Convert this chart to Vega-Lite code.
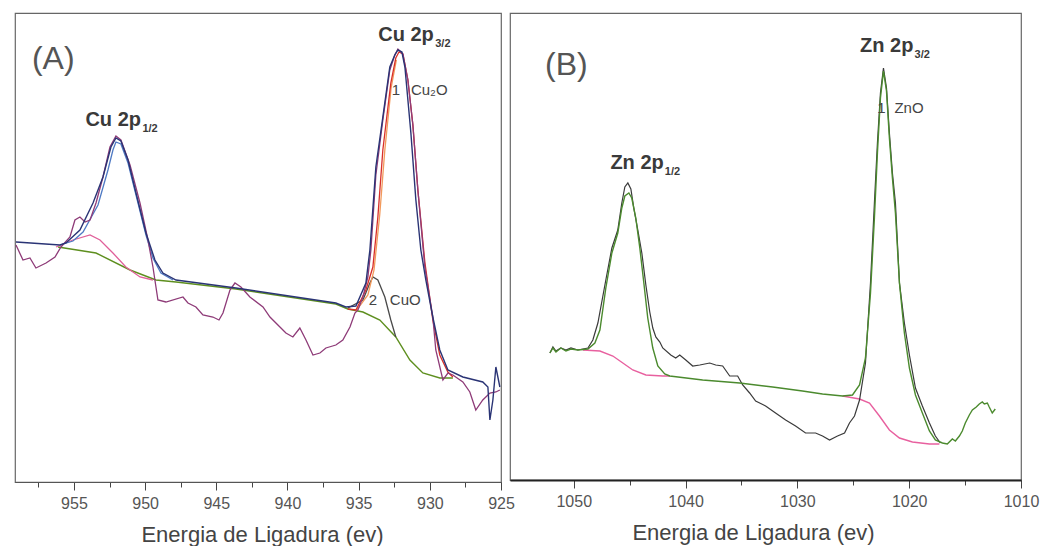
{
  "$schema": "https://vega.github.io/schema/vega-lite/v6.json",
  "padding": {"left": 12, "top": 12, "right": 5, "bottom": 0},
  "bounds": "flush",
  "spacing": 9,
  "background": "white",
  "config": {
    "view": {"stroke": "#666", "strokeWidth": 1.2},
    "font": "Liberation Sans",
    "axis": {
      "labelFont": "Liberation Sans", "labelFontSize": 16, "labelColor": "#555", "labelFlush": false,
      "titleFont": "Liberation Sans", "titleFontSize": 22, "titleFontWeight": "normal", "titleColor": "#444",
      "tickColor": "#444", "domainColor": "#333", "domainWidth": 1.5, "labelPadding": 5, "titlePadding": 13,
      "grid": false, "tickWidth": 1
    }
  },
  "datasets": {
    "A_raw": [{"E":959.07,"I":237},{"E":958.58,"I":222},{"E":958.09,"I":224},{"E":957.67,"I":214},{"E":956.96,"I":219},{"E":956.33,"I":225},{"E":955.91,"I":235},{"E":955.28,"I":245},{"E":954.93,"I":262},{"E":954.58,"I":265},{"E":954.22,"I":260},{"E":953.87,"I":262},{"E":953.45,"I":279},{"E":952.96,"I":305},{"E":952.47,"I":335},{"E":952.05,"I":346},{"E":951.7,"I":342},{"E":951.06,"I":317},{"E":950.36,"I":279},{"E":949.8,"I":242},{"E":949.45,"I":215},{"E":949.1,"I":182},{"E":948.54,"I":180},{"E":947.34,"I":185},{"E":946.99,"I":179},{"E":946.43,"I":175},{"E":945.94,"I":167},{"E":945.24,"I":165},{"E":944.81,"I":162},{"E":944.53,"I":169},{"E":944.04,"I":192},{"E":943.69,"I":199},{"E":943.27,"I":195},{"E":942.64,"I":185},{"E":941.72,"I":175},{"E":941.23,"I":165},{"E":940.53,"I":155},{"E":940.11,"I":149},{"E":939.62,"I":145},{"E":939.13,"I":154},{"E":938.7,"I":142},{"E":938.21,"I":127},{"E":937.72,"I":129},{"E":937.3,"I":134},{"E":936.6,"I":137},{"E":936.11,"I":142},{"E":935.61,"I":155},{"E":935.26,"I":169},{"E":935.05,"I":172},{"E":934.7,"I":185},{"E":934.35,"I":205},{"E":934.14,"I":232},{"E":933.79,"I":307},{"E":933.3,"I":362},{"E":932.81,"I":412},{"E":932.46,"I":427},{"E":932.24,"I":433},{"E":931.89,"I":428},{"E":931.54,"I":402},{"E":931.19,"I":357},{"E":930.84,"I":292},{"E":930.35,"I":215},{"E":929.79,"I":165},{"E":929.58,"I":132},{"E":929.08,"I":102},{"E":928.73,"I":109},{"E":928.38,"I":107},{"E":927.68,"I":100},{"E":927.19,"I":90},{"E":926.77,"I":72},{"E":926.28,"I":82},{"E":925.78,"I":89},{"E":925.36,"I":90},{"E":925.08,"I":92}],
    "A_env": [{"E":959.07,"I":240},{"E":955.98,"I":237},{"E":955.56,"I":239},{"E":954.58,"I":252},{"E":953.66,"I":279},{"E":952.96,"I":305},{"E":952.4,"I":335},{"E":952.05,"I":344},{"E":951.7,"I":341},{"E":951.2,"I":322},{"E":950.64,"I":289},{"E":949.94,"I":249},{"E":949.31,"I":222},{"E":948.75,"I":209},{"E":947.83,"I":202},{"E":943.62,"I":194},{"E":936.6,"I":179},{"E":935.9,"I":175},{"E":935.19,"I":176},{"E":934.49,"I":199},{"E":934.21,"I":232},{"E":933.79,"I":315},{"E":933.3,"I":365},{"E":932.81,"I":415},{"E":932.46,"I":427},{"E":932.24,"I":432},{"E":931.96,"I":430},{"E":931.75,"I":415},{"E":931.33,"I":349},{"E":930.98,"I":282},{"E":930.63,"I":232},{"E":930.28,"I":202},{"E":929.79,"I":165},{"E":929.3,"I":132},{"E":928.73,"I":112},{"E":927.68,"I":105},{"E":926.28,"I":100},{"E":925.92,"I":95},{"E":925.78,"I":62},{"E":925.57,"I":82},{"E":925.36,"I":115},{"E":925.08,"I":95}],
    "A_bg": [{"E":956.12,"I":235},{"E":953.45,"I":229},{"E":951.06,"I":212},{"E":949.24,"I":202},{"E":947.83,"I":200},{"E":943.62,"I":193},{"E":936.6,"I":178},{"E":935.76,"I":173},{"E":934.7,"I":170},{"E":933.51,"I":162},{"E":932.39,"I":145},{"E":931.4,"I":122},{"E":930.49,"I":109},{"E":929.3,"I":104},{"E":928.38,"I":104}],
    "A_pink": [{"E":956.26,"I":235},{"E":955.07,"I":242},{"E":953.87,"I":247},{"E":953.17,"I":242},{"E":952.26,"I":229},{"E":951.35,"I":215},{"E":950.36,"I":205},{"E":949.45,"I":202}],
    "A_blue": [{"E":955.98,"I":237},{"E":955.07,"I":241},{"E":954.36,"I":250},{"E":953.31,"I":277},{"E":952.61,"I":312},{"E":952.26,"I":332},{"E":952.05,"I":340},{"E":951.7,"I":338},{"E":951.2,"I":319},{"E":950.64,"I":287},{"E":949.94,"I":247},{"E":949.45,"I":224},{"E":948.89,"I":209},{"E":948.04,"I":202}],
    "A_red": [{"E":935.76,"I":173},{"E":935.19,"I":172},{"E":934.49,"I":192},{"E":934.0,"I":215},{"E":933.65,"I":265},{"E":933.3,"I":332},{"E":932.74,"I":399},{"E":932.39,"I":424},{"E":932.17,"I":430},{"E":931.89,"I":428},{"E":931.54,"I":402},{"E":931.19,"I":357},{"E":930.84,"I":292},{"E":930.35,"I":220},{"E":929.79,"I":162},{"E":929.3,"I":127},{"E":928.73,"I":110},{"E":928.38,"I":105}],
    "A_orange": [{"E":935.19,"I":171},{"E":934.35,"I":187},{"E":933.92,"I":212},{"E":933.52,"I":267},{"E":933.16,"I":332},{"E":932.72,"I":394},{"E":932.35,"I":422}],
    "A_cuo": [{"E":935.76,"I":174},{"E":934.7,"I":182},{"E":934.21,"I":199},{"E":934.0,"I":205},{"E":933.65,"I":202},{"E":933.16,"I":185},{"E":932.74,"I":162},{"E":932.39,"I":145}],
    "A_lab": [
      {"E":957.95,"I":423,"t":"(A)","k":"panel"},
      {"E":929.72,"I":447,"t":"Cu 2p","k":"peak"},
      {"E":929.62,"I":438,"t":"3/2","k":"sub"},
      {"E":950.29,"I":362,"t":"Cu 2p","k":"peak"},
      {"E":950.19,"I":353,"t":"1/2","k":"sub"},
      {"E":932.39,"I":392,"t":"1","k":"num"},
      {"E":931.33,"I":392,"t":"Cu₂O","k":"comp"},
      {"E":934.0,"I":182,"t":"2","k":"num"},
      {"E":932.81,"I":182,"t":"CuO","k":"comp"}
    ],
    "B_raw": [{"E":1052.13,"I":127},{"E":1051.86,"I":133},{"E":1051.59,"I":129},{"E":1051.15,"I":132},{"E":1050.7,"I":130},{"E":1050.25,"I":132},{"E":1049.63,"I":130},{"E":1048.73,"I":132},{"E":1048.29,"I":140},{"E":1047.84,"I":157},{"E":1047.13,"I":200},{"E":1046.59,"I":232},{"E":1046.06,"I":250},{"E":1045.7,"I":277},{"E":1045.43,"I":293},{"E":1045.16,"I":297},{"E":1044.89,"I":291},{"E":1044.63,"I":272},{"E":1044.27,"I":250},{"E":1043.91,"I":227},{"E":1043.55,"I":195},{"E":1043.2,"I":168},{"E":1042.93,"I":152},{"E":1042.66,"I":143},{"E":1042.3,"I":138},{"E":1042.04,"I":132},{"E":1041.32,"I":125},{"E":1040.88,"I":122},{"E":1040.52,"I":125},{"E":1039.98,"I":120},{"E":1039.36,"I":114},{"E":1038.73,"I":115},{"E":1037.84,"I":117},{"E":1037.3,"I":115},{"E":1036.68,"I":114},{"E":1036.05,"I":104},{"E":1035.34,"I":104},{"E":1034.89,"I":95},{"E":1034.27,"I":87},{"E":1033.73,"I":79},{"E":1032.84,"I":74},{"E":1031.95,"I":67},{"E":1031.05,"I":60},{"E":1030.16,"I":54},{"E":1029.27,"I":47},{"E":1028.37,"I":47},{"E":1027.75,"I":44},{"E":1027.12,"I":40},{"E":1026.41,"I":44},{"E":1025.78,"I":47},{"E":1025.34,"I":57},{"E":1024.89,"I":64},{"E":1024.44,"I":80},{"E":1023.91,"I":117},{"E":1023.46,"I":197},{"E":1023.11,"I":277},{"E":1022.84,"I":337},{"E":1022.57,"I":387},{"E":1022.3,"I":412},{"E":1022.03,"I":392},{"E":1021.77,"I":347},{"E":1021.5,"I":307},{"E":1021.23,"I":277},{"E":1020.87,"I":197},{"E":1020.43,"I":157},{"E":1019.98,"I":125},{"E":1019.44,"I":92},{"E":1018.82,"I":74},{"E":1018.19,"I":57},{"E":1017.66,"I":44},{"E":1017.21,"I":37}],
    "B_fit": [{"E":1052.13,"I":127},{"E":1051.86,"I":132},{"E":1051.59,"I":128},{"E":1051.15,"I":132},{"E":1050.7,"I":129},{"E":1050.25,"I":131},{"E":1049.63,"I":130},{"E":1048.73,"I":131},{"E":1048.11,"I":137},{"E":1047.66,"I":150},{"E":1047.13,"I":192},{"E":1046.59,"I":227},{"E":1046.06,"I":247},{"E":1045.7,"I":272},{"E":1045.43,"I":284},{"E":1045.07,"I":287},{"E":1044.81,"I":282},{"E":1044.45,"I":262},{"E":1044.09,"I":232},{"E":1043.73,"I":197},{"E":1043.38,"I":162},{"E":1042.93,"I":132},{"E":1042.48,"I":114},{"E":1041.86,"I":106},{"E":1041.41,"I":104},{"E":1038.47,"I":100},{"E":1035.16,"I":97},{"E":1032.21,"I":93},{"E":1029.54,"I":89},{"E":1027.75,"I":86},{"E":1025.96,"I":84},{"E":1025.07,"I":85},{"E":1024.44,"I":95},{"E":1023.91,"I":122},{"E":1023.46,"I":187},{"E":1023.11,"I":262},{"E":1022.84,"I":327},{"E":1022.57,"I":382},{"E":1022.3,"I":409},{"E":1022.03,"I":389},{"E":1021.77,"I":342},{"E":1021.5,"I":302},{"E":1021.23,"I":267},{"E":1020.87,"I":197},{"E":1020.43,"I":147},{"E":1019.98,"I":112},{"E":1019.44,"I":85},{"E":1018.82,"I":67},{"E":1018.19,"I":49},{"E":1017.66,"I":40},{"E":1017.03,"I":37},{"E":1016.59,"I":36},{"E":1016.14,"I":41},{"E":1015.87,"I":39},{"E":1015.51,"I":44},{"E":1015.25,"I":49},{"E":1014.98,"I":57},{"E":1014.62,"I":65},{"E":1014.35,"I":70},{"E":1014.0,"I":73},{"E":1013.73,"I":76},{"E":1013.46,"I":78},{"E":1013.28,"I":76},{"E":1013.01,"I":77},{"E":1012.84,"I":73},{"E":1012.57,"I":67},{"E":1012.3,"I":71}],
    "B_pink": [{"g":1,"E":1049.18,"I":130},{"g":1,"E":1047.66,"I":129},{"g":1,"E":1046.5,"I":124},{"g":1,"E":1045.61,"I":117},{"g":1,"E":1044.72,"I":110},{"g":1,"E":1043.55,"I":105},{"g":1,"E":1042.04,"I":104},{"g":1,"E":1041.41,"I":104},{"g":2,"E":1025.96,"I":84},{"g":2,"E":1024.44,"I":81},{"g":2,"E":1023.55,"I":77},{"g":2,"E":1022.66,"I":64},{"g":2,"E":1021.77,"I":50},{"g":2,"E":1020.87,"I":42},{"g":2,"E":1019.71,"I":38},{"g":2,"E":1018.19,"I":36},{"g":2,"E":1017.3,"I":36}],
    "B_lab": [
      {"E":1052.57,"I":415,"t":"(B)","k":"panel"},
      {"E":1019.62,"I":434,"t":"Zn 2p","k":"peak"},
      {"E":1019.52,"I":425,"t":"3/2","k":"sub"},
      {"E":1041.95,"I":317,"t":"Zn 2p","k":"peak"},
      {"E":1041.85,"I":308,"t":"1/2","k":"sub"},
      {"E":1022.48,"I":372,"t":"1","k":"num"},
      {"E":1021.32,"I":372,"t":"ZnO","k":"comp"}
    ]
  },
  "hconcat": [
    {
      "width": 486,
      "height": 469,
      "encoding": {
        "x": {"field": "E", "type": "quantitative",
          "scale": {"domain": [925, 959.14], "reverse": true, "nice": false, "zero": false},
          "axis": {"title": "Energia de Ligadura (ev)", "titleX": 247,
            "values": [957.5, 955, 952.5, 950, 947.5, 945, 942.5, 940, 937.5, 935, 932.5, 930, 927.5, 925],
            "labelExpr": "datum.value % 5 == 0 ? format(datum.value, 'd') : ''",
            "tickSize": {"condition": {"test": "datum.value % 5 == 0", "value": 8}, "value": 5},
            "domainColor": "#555", "domainWidth": 1.2}},
        "y": {"field": "I", "type": "quantitative", "scale": {"domain": [0, 469], "nice": false, "zero": false}, "axis": null}
      },
      "layer": [
        {"data": {"name": "A_bg"}, "mark": {"type": "line", "color": "#5e8f1f", "strokeWidth": 1.4}},
        {"data": {"name": "A_pink"}, "mark": {"type": "line", "color": "#e0609a", "strokeWidth": 1.3}},
        {"data": {"name": "A_blue"}, "mark": {"type": "line", "color": "#4f7ac4", "strokeWidth": 1.3}},
        {"data": {"name": "A_cuo"}, "mark": {"type": "line", "color": "#4a4a4a", "strokeWidth": 1.3}},
        {"data": {"name": "A_orange"}, "mark": {"type": "line", "color": "#f29a5c", "strokeWidth": 1.3}},
        {"data": {"name": "A_red"}, "mark": {"type": "line", "color": "#d8302a", "strokeWidth": 1.3}},
        {"data": {"name": "A_raw"}, "mark": {"type": "line", "color": "#8e3b78", "strokeWidth": 1.3}},
        {"data": {"name": "A_env"}, "mark": {"type": "line", "color": "#2a3475", "strokeWidth": 1.4}},
        {"data": {"name": "A_lab"}, "transform": [{"filter": "datum.k == 'panel'"}],
          "mark": {"type": "text", "fontSize": 32, "align": "left", "baseline": "middle", "color": "#555"},
          "encoding": {"text": {"field": "t"}}},
        {"data": {"name": "A_lab"}, "transform": [{"filter": "datum.k == 'peak'"}],
          "mark": {"type": "text", "fontSize": 20, "fontWeight": "bold", "align": "right", "baseline": "middle", "color": "#3a3a3a"},
          "encoding": {"text": {"field": "t"}}},
        {"data": {"name": "A_lab"}, "transform": [{"filter": "datum.k == 'sub'"}],
          "mark": {"type": "text", "fontSize": 11, "fontWeight": "bold", "align": "left", "baseline": "middle", "color": "#3a3a3a"},
          "encoding": {"text": {"field": "t"}}},
        {"data": {"name": "A_lab"}, "transform": [{"filter": "datum.k == 'num'"}],
          "mark": {"type": "text", "fontSize": 15, "align": "center", "baseline": "middle", "color": "#444"},
          "encoding": {"text": {"field": "t"}}},
        {"data": {"name": "A_lab"}, "transform": [{"filter": "datum.k == 'comp'"}],
          "mark": {"type": "text", "fontSize": 15, "align": "left", "baseline": "middle", "color": "#444"},
          "encoding": {"text": {"field": "t"}}}
      ]
    },
    {
      "width": 511,
      "height": 467,
      "encoding": {
        "x": {"field": "E", "type": "quantitative",
          "scale": {"domain": [1010, 1055.7], "reverse": true, "nice": false, "zero": false},
          "axis": {"title": "Energia de Ligadura (ev)", "titleX": 243,
            "values": [1050, 1045, 1040, 1035, 1030, 1025, 1020, 1015, 1010],
            "labelExpr": "datum.value % 10 == 0 ? format(datum.value, 'd') : ''",
            "tickSize": {"condition": {"test": "datum.value % 10 == 0", "value": 8}, "value": 5},
            "domainColor": "#222", "domainWidth": 2}},
        "y": {"field": "I", "type": "quantitative", "scale": {"domain": [0, 467], "nice": false, "zero": false}, "axis": null}
      },
      "layer": [
        {"data": {"name": "B_pink"}, "mark": {"type": "line", "color": "#e8609f", "strokeWidth": 1.4}, "encoding": {"detail": {"field": "g"}}},
        {"data": {"name": "B_raw"}, "mark": {"type": "line", "color": "#3a3a3a", "strokeWidth": 1.2}},
        {"data": {"name": "B_fit"}, "mark": {"type": "line", "color": "#4b8a2e", "strokeWidth": 1.4}},
        {"data": {"name": "B_lab"}, "transform": [{"filter": "datum.k == 'panel'"}],
          "mark": {"type": "text", "fontSize": 32, "align": "left", "baseline": "middle", "color": "#555"},
          "encoding": {"text": {"field": "t"}}},
        {"data": {"name": "B_lab"}, "transform": [{"filter": "datum.k == 'peak'"}],
          "mark": {"type": "text", "fontSize": 20, "fontWeight": "bold", "align": "right", "baseline": "middle", "color": "#3a3a3a"},
          "encoding": {"text": {"field": "t"}}},
        {"data": {"name": "B_lab"}, "transform": [{"filter": "datum.k == 'sub'"}],
          "mark": {"type": "text", "fontSize": 11, "fontWeight": "bold", "align": "left", "baseline": "middle", "color": "#3a3a3a"},
          "encoding": {"text": {"field": "t"}}},
        {"data": {"name": "B_lab"}, "transform": [{"filter": "datum.k == 'num'"}],
          "mark": {"type": "text", "fontSize": 15, "align": "center", "baseline": "middle", "color": "#444"},
          "encoding": {"text": {"field": "t"}}},
        {"data": {"name": "B_lab"}, "transform": [{"filter": "datum.k == 'comp'"}],
          "mark": {"type": "text", "fontSize": 15, "align": "left", "baseline": "middle", "color": "#444"},
          "encoding": {"text": {"field": "t"}}}
      ]
    }
  ]
}
